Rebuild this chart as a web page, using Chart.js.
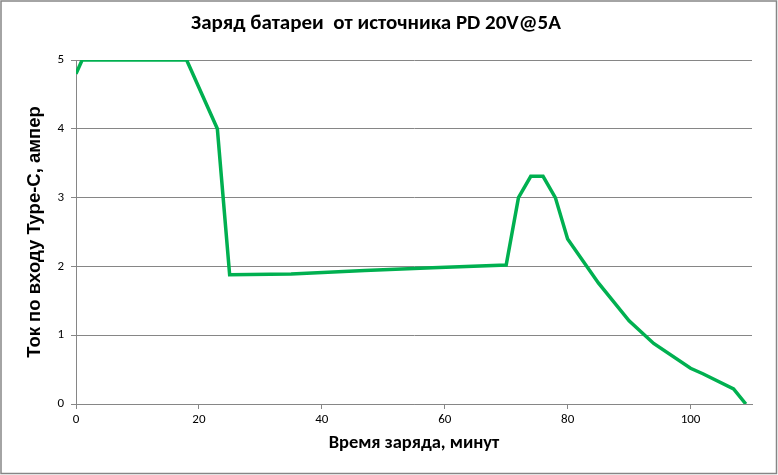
<!DOCTYPE html>
<html>
<head>
<meta charset="utf-8">
<script src="https://cdn.jsdelivr.net/npm/chart.js@4"></script>
<style>
  html, body { margin: 0; padding: 0; background: #fff; }
  #wrap { width: 778px; height: 475px; }
</style>
</head>
<body>
<div id="wrap"><canvas id="charge" width="778" height="475"></canvas></div>
<script>
// время (минуты) и ток (А)
const minutes = [0, 1, 18, 23, 25, 35, 47, 58, 70, 72, 74, 76, 78, 80, 85, 90, 94, 100, 102, 107, 109];
const current = [4.8, 5, 5, 4, 1.88, 1.89, 1.94, 1.98, 2.02, 3.0, 3.31, 3.31, 3.0, 2.4, 1.76, 1.21, 0.88, 0.52, 0.44, 0.22, 0];
const xStep = 20;
const yStep = 1;

const FONT = "Carlito, 'Liberation Sans Narrow', 'DejaVu Sans Condensed', sans-serif";
const GRID = '#868686';

Chart.defaults.font.family = FONT;
Chart.defaults.font.size = 13;
Chart.defaults.color = '#000';

const frame = {
    id: 'frame',
    afterDraw(chart){
        const ctx = chart.ctx;
        ctx.save();
        ctx.strokeStyle = GRID;
        ctx.lineWidth = 1.5;
        ctx.strokeRect(1, 1, chart.width - 2.5, chart.height - 2.5);
        ctx.restore();
    }
};

const chart = new Chart(
    document.getElementById('charge').getContext('2d'),
    {
        type: 'line',
        data: {
            datasets: [{
                data: minutes.map((m, i) => ({x: m, y: current[i]})),
                borderColor: '#00B050',
                borderWidth: 3.5,
                pointRadius: 0,
                tension: 0,
                fill: false
            }]
        },
        options: {
            responsive: false,
            animation: false,
            layout: { padding: { left: 0, right: 26, top: 0, bottom: 0 } },
            plugins: {
                legend: { display: false },
                tooltip: { enabled: false },
                title: {
                    display: true,
                    text: 'Заряд батареи  от источника PD 20V@5A',
                    color: '#000',
                    font: { family: FONT, size: 21, weight: 'bold' },
                    padding: { top: 11.4, bottom: 23.4 }
                }
            },
            scales: {
                x: {
                    type: 'linear',
                    min: 0,
                    max: 110,
                    afterFit: s => { s.height = 71; },
                    ticks: {
                        stepSize: xStep,
                        includeBounds: false,
                        color: '#000',
                        font: { family: FONT, size: 13 },
                        padding: 3,
                        maxRotation: 0
                    },
                    grid: { drawOnChartArea: false, drawTicks: true, tickLength: 5, color: GRID },
                    border: { color: GRID, width: 1 },
                    title: {
                        display: true,
                        text: 'Время заряда, минут',
                        color: '#000',
                        font: { family: FONT, size: 18.5, weight: 'bold' },
                        padding: { top: 0, bottom: 21 }
                    }
                },
                y: {
                    min: 0,
                    max: 5,
                    afterFit: s => { s.width = 76; },
                    ticks: {
                        stepSize: yStep,
                        color: '#000',
                        font: { family: FONT, size: 13 },
                        padding: 7
                    },
                    grid: { color: GRID, tickLength: 5 },
                    border: { color: GRID, width: 1 },
                    title: {
                        display: true,
                        text: 'Ток по входу Type-C, ампер',
                        color: '#000',
                        font: { family: "'Liberation Sans', Arial, sans-serif", size: 18.5, weight: 'bold' },
                        padding: { top: 23.9, bottom: 0 }
                    }
                }
            }
        },
        plugins: [frame]
    }
);
</script>
</body>
</html>
